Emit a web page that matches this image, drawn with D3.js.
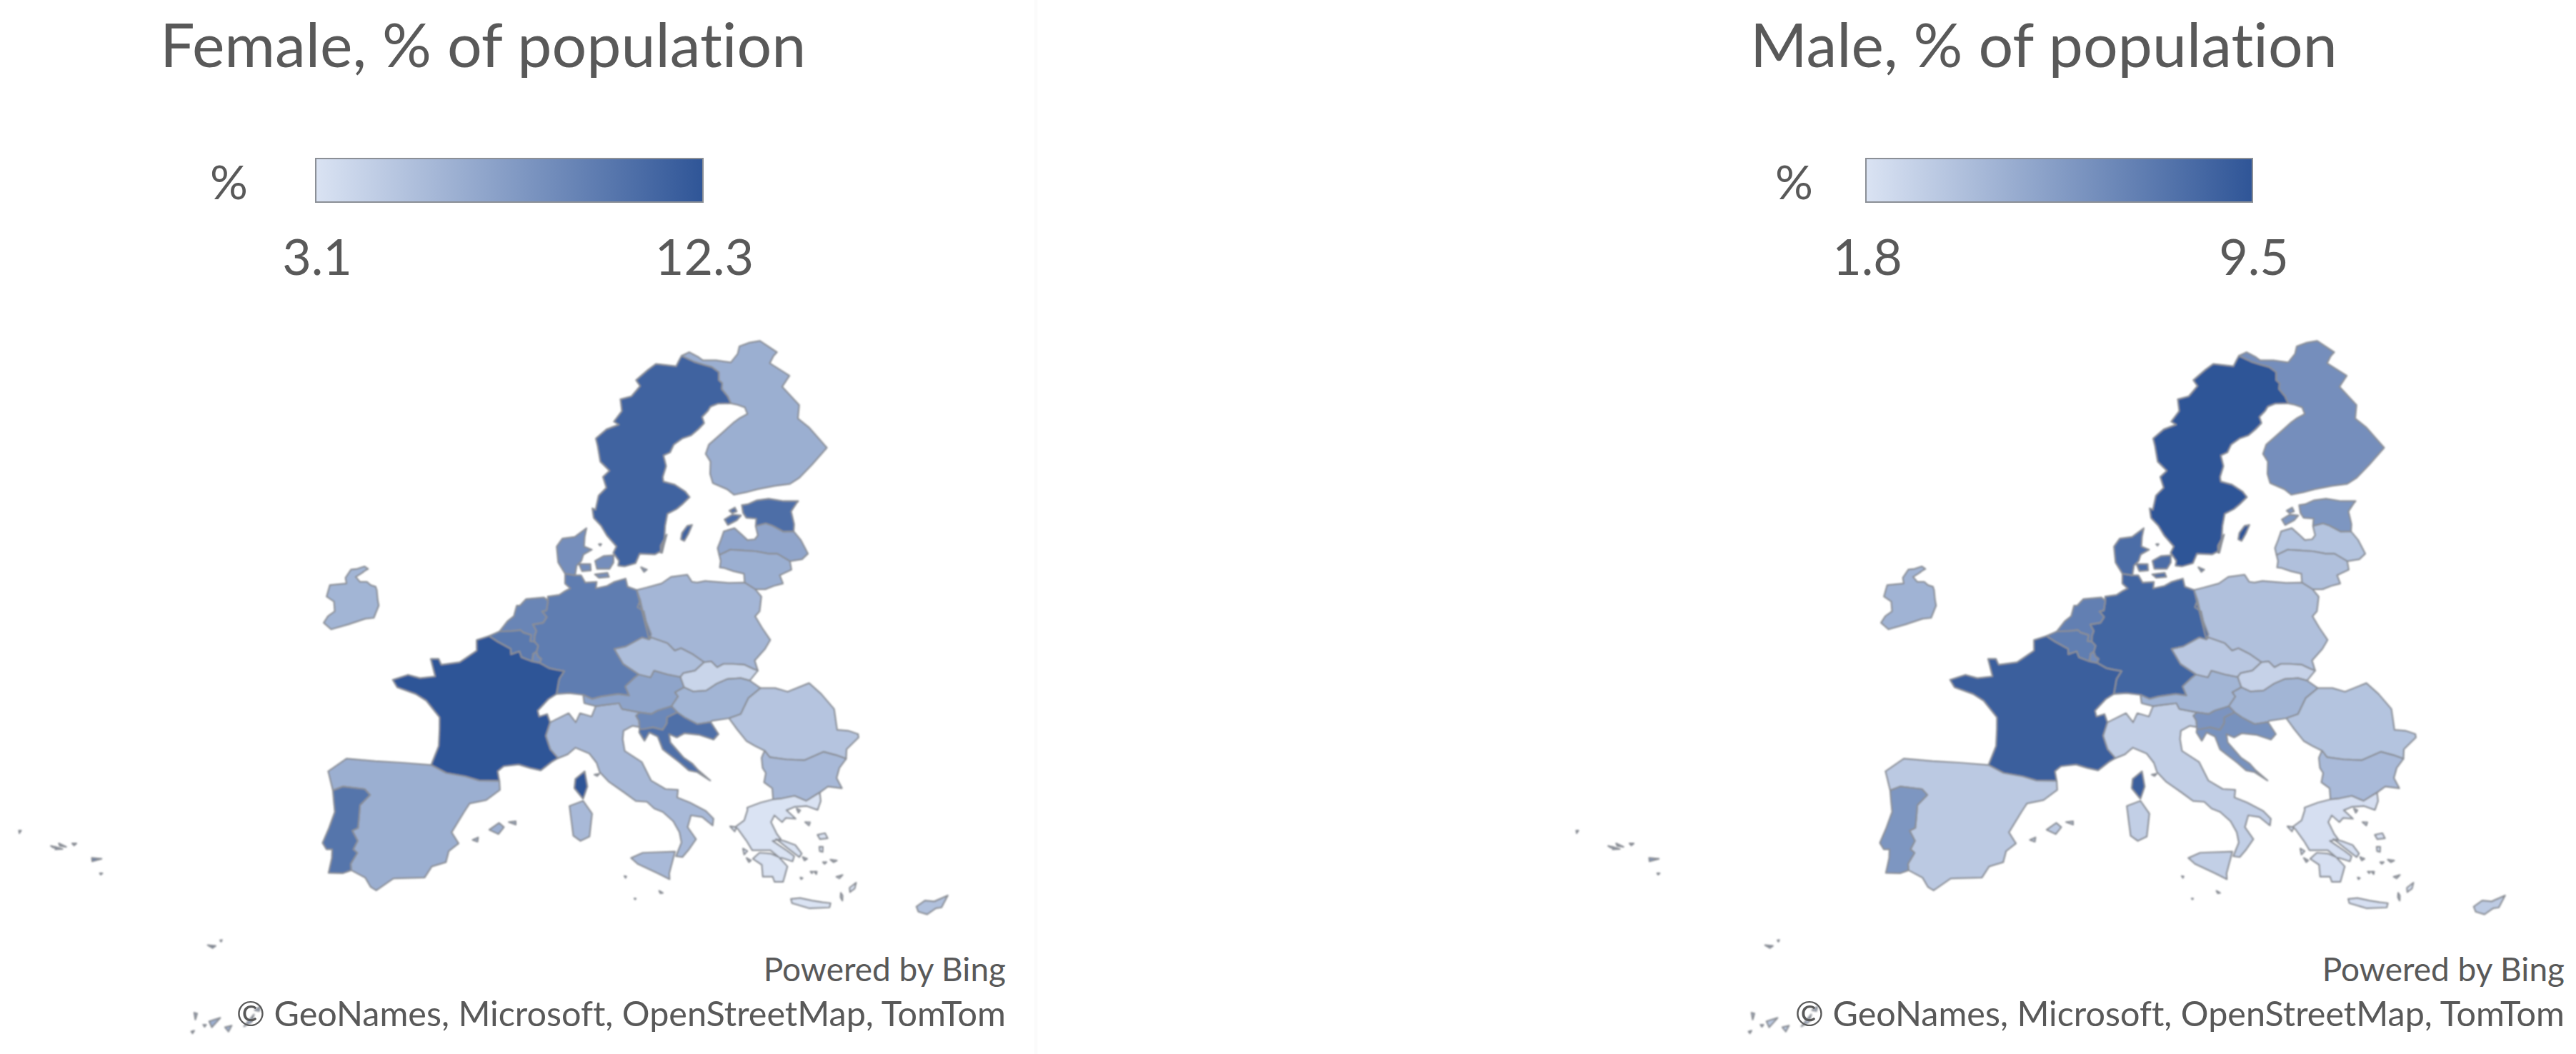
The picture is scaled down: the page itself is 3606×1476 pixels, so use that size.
<!DOCTYPE html>
<html>
<head>
<meta charset="utf-8">
<script src="https://cdn.jsdelivr.net/npm/d3@7"></script>
<style>
  html, body { margin: 0; background: #fff; }
  text { font-family: Lato, "Open Sans", sans-serif; fill: #595959; font-variant-ligatures: none; }
</style>
</head>
<body>
<div class="canva"></div>
<script>
const countries = ['SE', 'FI', 'EE', 'LV', 'LT', 'PL', 'DE', 'DK', 'NL', 'BE', 'LU', 'FR', 'ES', 'PT', 'IT', 'AT', 'CZ', 'SK', 'HU', 'SI', 'HR', 'RO', 'BG', 'GR', 'CY', 'IE', 'MT'];
const femaleValues = [11.4, 6.5, 10.7, 7.1, 6.5, 6.0, 9.7, 8.6, 9.2, 10.0, 8.9, 12.3, 6.5, 10.3, 5.8, 7.2, 5.5, 4.0, 6.1, 9.0, 10.6, 5.1, 5.8, 3.1, 5.3, 6.1, 5.5];
const maleValues = [9.5, 6.4, 6.0, 3.5, 3.7, 3.7, 8.6, 8.2, 7.2, 7.3, 6.5, 9.0, 3.2, 6.0, 2.9, 4.3, 3.3, 2.7, 4.3, 6.1, 6.2, 3.5, 4.0, 2.0, 3.1, 4.4, 3.0];

const panelTitles = ['Female, % of population', 'Male, % of population'];
const legendMin = [3.1, 1.8];
const legendMax = [12.3, 9.5];

// shared borders, lon,lat
const arcs = {
  SE_FI: '20.55,69.06 21.6,68.65 22.4,68.45 23.1,68.3 23.65,67.95 23.5,67.4 23.75,67.2 23.6,66.8 24,66.3 24.15,65.82',
  SE_RING: '24.15,65.82 23,65.8 22.3,65.6 22,65.3 21.4,64.9 21.5,64.5 20.9,64.1 20.2,63.7 19.4,63.5 18.6,63.1 18.2,62.6 17.6,62.4 17.7,61.7 17.3,61 17.3,60.7 18.2,60.5 19,60.05 19.3,59.7 18.7,59.3 18.1,58.95 17.3,58.65 17,57.9 16.8,57 16.4,56.3 15.9,56.1 14.7,56.15 14.3,55.55 13.4,55.35 12.9,55.4 13,55.7 12.6,56.2 12.9,56.6 12.2,57.3 11.8,57.9 11.25,58.4 11.2,59 11.45,58.9 11.8,59.8 12.5,60.3 12.3,61 12.9,61.4 12.2,62 12.1,63 12,63.5 13,64.1 14.1,64.4 13.7,64.6 14.5,65.3 14.5,66.1 15.5,66.3 16.4,67 16.1,67.4 17.3,68.1 18.1,68.5 19.9,68.35 20.3,68.8 20.55,69.06',
  FI_RING: '20.55,69.06 21.3,69.3 22,69 22.4,68.75 23.6,68.75 24.9,68.6 25.7,69.2 26,69.7 27,69.95 28,70.08 29.3,69.3 28.9,69.05 28.4,68.55 29.9,67.7 29,66.95 30.1,65.7 29.7,64.8 30.5,64.2 31.6,62.9 30,61.8 28.7,60.95 27.8,60.55 26.5,60.42 25,60.2 24,60 23,59.85 22.5,60.2 21.4,60.6 21.3,61.2 21.5,62 21.2,62.5 21.6,63.1 22.8,63.8 24,64.5 24.6,64.8 25.4,65.1 25.3,65.55 24.6,65.75 24.15,65.82',
  EE_COAST: '28.2,59.45 27,59.45 25.8,59.6 24.8,59.5 24,59.25 23.5,59.2 23.5,58.7 23.7,58.4 24.5,58.35 24.35,57.88',
  EE_LV: '24.35,57.88 25.2,58.05 25.7,57.9 26.5,57.53 27.35,57.55',
  EE_RU: '27.35,57.55 27.5,58 27.45,58.8 28,59.3 28.2,59.45',
  LV_COAST: '24.35,57.88 24.4,57.3 24.1,57.05 23.5,57 23.1,57.35 22.6,57.75 21.7,57.55 21.35,57 21,56.5 21.05,56.07',
  LV_LT: '21.05,56.07 22,56.4 23,56.35 24,56.3 25,56.15 25.7,56.15 26.6,55.68',
  LV_EAST: '26.6,55.68 27.6,55.8 28.15,56.15 27.8,57 27.35,57.55',
  LT_COAST: '21.05,56.07 21.1,55.7 20.95,55.28 21.3,55.25 22,55.05 22.8,54.9 22.75,54.35',
  PL_LT: '22.75,54.35 23.5,53.95',
  LT_EAST: '23.5,53.95 24.3,53.95 25,54.15 25.75,54.3 25.6,54.8 26.6,55.15 26.6,55.68',
  PL_COAST: '14.2,53.9 15,54.05 16.2,54.3 17,54.7 18.3,54.83 18.6,54.4 19,54.35 19.65,54.45 20.5,54.4 21.5,54.33 22.75,54.35',
  PL_EAST: '23.5,53.95 23.9,53.5 23.6,52.6 23.2,52.3 23.6,51.6 24.1,50.85 23.6,50.3 22.7,49.6 22.85,49',
  PL_SK: '22.85,49 22.55,49.09 21.9,49.35 21,49.4 20.3,49.4 19.8,49.2 19.4,49.55 18.85,49.5',
  PL_CZ: '18.85,49.5 18,50 17.2,50.35 16.7,50.2 16.2,50.65 15,51 14.82,50.87',
  PL_DE: '14.82,50.87 15,51.2 14.7,52 14.6,52.6 14.15,52.85 14.4,53.3 14.2,53.9',
  DE_COAST1: '14.2,53.9 13.5,54.1 13.4,54.6 12.5,54.4 11.9,54.15 11,54 11.1,54.4 10.2,54.35 9.9,54.8 9.43,54.8',
  DE_DK: '9.43,54.8 8.65,54.9',
  DE_COAST2: '8.65,54.9 8.6,54.3 9,54 8.6,53.85 8.1,53.6 7.2,53.5 7.2,53.25',
  DE_NL: '7.2,53.25 7.05,52.65 6.7,52.6 7.05,52.25 6.75,51.9 5.95,51.8 6.2,51.4 6.05,51.1 6.02,50.75',
  DE_BE: '6.02,50.75 6.3,50.5 6.15,50.13',
  DE_LU: '6.15,50.13 6.25,49.85 6.5,49.7 6.37,49.46',
  DE_FR: '6.37,49.46 7.05,49.15 7.6,49.05 8.2,48.97 7.8,48.5 7.55,47.6',
  DE_CH: '7.55,47.6 8.5,47.65 9.55,47.55',
  DE_AT: '9.55,47.55 10.2,47.3 10.9,47.45 12.2,47.6 13,47.5 12.75,48.05 13.45,48.55 13.83,48.77',
  DE_CZ: '13.83,48.77 12.7,49.4 12.1,50.3 13,50.45 14.3,51 14.82,50.87',
  DK_COAST: '8.65,54.9 8.15,55.6 8.1,56.6 8.6,57.1 9.6,57.2 10.6,57.75 10.4,57.2 10.3,56.6 10.9,56.4 10.2,56.1 10,55.7 9.6,55.4 9.43,54.8',
  NL_COAST: '7.2,53.25 6.9,53.45 5.5,53.35 5,52.95 4.75,52.95 4.5,52.3 4,52 3.37,51.37',
  NL_BE: '3.37,51.37 4.3,51.4 5,51.45 5.2,51.3 5.8,51.15 5.7,50.78 6.02,50.75',
  BE_COAST: '3.37,51.37 2.55,51.09',
  BE_FR: '2.55,51.09 3.2,50.75 4.2,50.3 4.2,49.97 4.85,50.15 5,49.8 5.8,49.55',
  BE_LU: '5.8,49.55 5.9,50 6.15,50.13',
  LU_FR: '5.8,49.55 6.37,49.46',
  FR_COAST1: '2.55,51.09 1.6,50.85 1.6,50.2 0.3,49.5 -1.1,49.35 -1.3,49.7 -1.9,49.7 -1.55,48.65 -2.7,48.55 -3.6,48.75 -4.75,48.45 -4.4,48 -3,47.6 -2.2,47.2 -1.2,46.2 -1.2,45.5 -1.25,44.5 -1.8,43.37',
  FR_ES: '-1.8,43.37 -0.7,42.9 0.7,42.7 1.7,42.45 3.17,42.43',
  FR_COAST2: '3.17,42.43 3.05,43 3.5,43.3 4.6,43.4 5.4,43.2 6.2,43.05 7,43.55 7.5,43.78',
  FR_IT: '7.5,43.78 6.95,44.3 6.65,45.1 7,45.9',
  FR_CH: '7,45.9 6.8,46.4 6.2,46.25 6.1,46.6 6.95,47.3 7.55,47.6',
  ES_COAST1: '-1.8,43.37 -3.8,43.5 -5.9,43.6 -8,43.75 -9.3,43 -8.9,41.87',
  ES_PT: '-8.9,41.87 -8.2,42.1 -6.6,41.95 -6.2,41.6 -6.9,41 -6.95,40.2 -7,39.65 -7.4,39.5 -7,38.9 -7.3,38.4 -7,38.2 -7.45,37.55 -7.4,37.18',
  ES_COAST2: '-7.4,37.18 -6.4,36.75 -6,36.2 -5.6,36 -4.4,36.7 -2.2,36.75 -1.7,37.4 -0.7,37.65 -0.5,38.3 0.2,38.75 -0.3,39.4 0.6,40.6 1,41.1 2.2,41.3 3.2,41.9 3.17,42.43',
  PT_COAST: '-8.9,41.87 -8.8,41.2 -8.7,40.6 -9.1,39.6 -9.5,38.78 -9.2,38.4 -8.8,38.4 -8.8,37.9 -9,37.02 -8,37 -7.4,37.18',
  IT_COAST: '7.5,43.78 8.2,44 8.8,44.4 9.8,44.05 10.3,43.5 10.5,42.95 11.1,42.4 12.2,41.75 13,41.25 13.8,41.2 14.3,40.8 14.9,40.6 15.6,40.05 16,39.4 16.1,38.8 15.65,38 16.1,37.95 16.6,38.4 17.15,39 16.6,39.7 16.9,40.4 17.7,40.3 18.4,39.8 18.5,40.2 18,40.65 16.9,41.15 16,41.45 16.1,41.9 15.2,41.95 14.2,42.45 13.6,43.55 12.4,44.2 12.3,44.9 12.4,45.4 13.1,45.7 13.6,45.62',
  IT_SI: '13.6,45.62 13.6,46 13.4,46.3 13.7,46.5',
  IT_AT: '13.7,46.5 12.4,46.7 12.2,47.05 11.15,46.95 10.45,46.87',
  IT_CH: '10.45,46.87 10.1,46.25 9.25,46.45 8.9,45.9 8.4,46.45 7,45.9',
  AT_CZ: '13.83,48.77 14.7,48.6 15,49 16.1,48.75 16.95,48.62',
  AT_SK: '16.95,48.62 17.16,48',
  AT_HU: '17.16,48 16.45,47.7 16.65,47.45 16.1,46.87',
  AT_SI: '16.1,46.87 15,46.6 14.55,46.4 13.7,46.5',
  AT_CH: '10.45,46.87 9.6,47.05 9.55,47.55',
  CZ_SK: '18.85,49.5 18.1,49 17.2,48.85 16.95,48.62',
  SK_HU: '17.16,48 17.8,47.75 18.8,47.8 19.6,48.2 20.5,48.5 21.5,48.55 22.15,48.4',
  SK_UA: '22.15,48.4 22.85,49',
  HU_UA: '22.15,48.4 22.9,47.95',
  HU_RO: '22.9,47.95 21.9,47.35 21.2,46.4 20.3,46.15',
  HU_RS: '20.3,46.15 19,46 18.9,45.92',
  HU_HR: '18.9,45.92 17.9,45.8 17,46.2 16.5,46.5',
  HU_SI: '16.5,46.5 16.1,46.87',
  SI_COAST: '13.6,45.62 13.6,45.5',
  SI_HR: '16.5,46.5 15.7,46.2 15.65,45.85 15.3,45.45 14.6,45.6 13.9,45.5 13.6,45.5',
  HR_COAST: '13.6,45.5 13.55,45.3 13.9,44.8 14.3,45.3 14.9,45.05 15.2,44.3 15.5,44.1 16.4,43.5 17,43.05 17.6,42.95 18.5,42.45',
  HR_BA: '18.5,42.45 17.7,43.05 17.3,43.45 16.7,43.8 16.2,44.3 15.8,44.7 15.75,45.2 16.3,45 16.9,45.25 18,45.15 19,44.87',
  HR_RS: '19,44.87 19.4,45.2 18.9,45.92',
  RO_EAST: '22.9,47.95 24,47.95 24.9,47.73 26.6,48.25 27.4,47.6 28.2,46.7 28.2,45.45 29,45.4 29.7,45.2 29.7,45 28.7,44.3 28.58,43.74',
  RO_BG: '28.58,43.74 27.9,43.95 27,44.15 25.5,43.65 24.2,43.7 23,43.83 22.68,44.22',
  RO_RS: '22.68,44.22 22,44.5 21.4,44.8 20.8,45.5 20.3,46.15',
  BG_COAST: '28.58,43.74 28,43.2 27.7,42.6 28,42 27,42.1 26.35,41.75',
  BG_GR: '26.35,41.75 25.3,41.25 24.5,41.55 23.6,41.4 22.93,41.34',
  BG_WEST: '22.93,41.34 22.95,42 22.4,42.35 22.6,42.9 22.4,43.2 22.4,43.8 22.68,44.22',
  GR_REST: '26.35,41.75 26.35,41.25 26.05,40.72 25.3,40.95 24.4,40.9 23.8,40.7 24.4,40.2 23.7,40.25 23.4,40 22.9,40.4 22.6,40 22.95,39.3 23.2,39 22.6,38.9 23.6,38.3 24.05,38 23.9,37.7 23.2,37.9 23,37.9 23.5,37.4 23.1,36.5 22.5,36.5 22.4,36.8 21.7,36.8 21.7,37.5 21.1,37.85 21.6,38.2 22.4,38.15 22.95,37.95 22.4,38.35 21.8,38.35 21.1,38.35 20.75,38.9 20.2,39.6 20,39.7 20.7,40.1 21,40.7 21,40.85 22,41.15 22.93,41.34'
};

// which arcs close each mainland, '-' walks an arc backwards
const mainland = {
  SE: ['SE_RING', 'SE_FI'],
  FI: ['FI_RING', '-SE_FI'],
  EE: ['EE_COAST', 'EE_LV', 'EE_RU'],
  LV: ['LV_COAST', 'LV_LT', 'LV_EAST', '-EE_LV'],
  LT: ['LT_COAST', 'PL_LT', 'LT_EAST', '-LV_LT'],
  PL: ['PL_COAST', 'PL_LT', 'PL_EAST', 'PL_SK', 'PL_CZ', 'PL_DE'],
  DE: ['DE_COAST1', 'DE_DK', 'DE_COAST2', 'DE_NL', 'DE_BE', 'DE_LU', 'DE_FR', 'DE_CH', 'DE_AT', 'DE_CZ', '-PL_DE'],
  DK: ['DK_COAST', 'DE_DK'],
  NL: ['NL_COAST', 'NL_BE', '-DE_NL'],
  BE: ['BE_COAST', 'BE_FR', 'BE_LU', '-DE_BE', '-NL_BE'],
  LU: ['LU_FR', '-DE_LU', '-BE_LU'],
  FR: ['FR_COAST1', 'FR_ES', 'FR_COAST2', 'FR_IT', 'FR_CH', '-DE_FR', '-LU_FR', '-BE_FR'],
  ES: ['ES_COAST1', 'ES_PT', 'ES_COAST2', '-FR_ES'],
  PT: ['PT_COAST', '-ES_PT'],
  IT: ['IT_COAST', 'IT_SI', 'IT_AT', 'IT_CH', '-FR_IT'],
  AT: ['DE_AT', 'AT_CZ', 'AT_SK', 'AT_HU', 'AT_SI', 'IT_AT', 'AT_CH'],
  CZ: ['DE_CZ', '-PL_CZ', 'CZ_SK', '-AT_CZ'],
  SK: ['PL_SK', 'CZ_SK', 'AT_SK', 'SK_HU', 'SK_UA'],
  HU: ['SK_HU', 'HU_UA', 'HU_RO', 'HU_RS', 'HU_HR', 'HU_SI', '-AT_HU'],
  SI: ['AT_SI', '-IT_SI', 'SI_COAST', '-SI_HR', 'HU_SI'],
  HR: ['HR_COAST', 'HR_BA', 'HR_RS', 'HU_HR', 'SI_HR'],
  RO: ['-HU_RO', 'RO_EAST', 'RO_BG', 'RO_RS'],
  BG: ['-RO_BG', 'BG_COAST', 'BG_GR', 'BG_WEST'],
  GR: ['-BG_GR', 'GR_REST']
};

// islands and countries without land borders
const islands = {
  SE: ['18.15,57.05 18.3,57.45 18.8,57.9 19.2,57.95 18.8,57.4 18.4,56.95', '16.4,56.2 16.45,56.65 17.05,57.35 16.75,56.75 16.5,56.2'],
  EE: ['21.9,58.3 22.6,58.6 23.3,58.55 22.9,58.25 22.1,57.95', '22.4,58.85 22.9,59.05 23,58.8 22.6,58.7'],
  DK: ['9.8,55.5 10.7,55.5 10.7,55.1 10,55.05', '11.1,55.7 11.8,56 12.6,56.05 12.55,55.6 12.2,55.2 11.2,55.2', '11,54.85 12,54.95 12.1,54.7 11.3,54.65', '14.7,55.3 15.15,55.15 14.9,55', '11.5,56.75 11.7,56.75 11.6,56.65'],
  FR: ['9.4,43 9.55,42.1 9.2,41.37 8.6,42 8.7,42.55'],
  ES: ['2.4,39.55 3.1,39.95 3.45,39.7 3.05,39.3', '3.8,40 4.3,40.05 4.3,39.85', '1.2,38.95 1.6,39.1 1.55,38.85', '-16.9,28.35 -16.15,28.55 -16.7,28', '-15.8,28 -15.35,28.1 -15.55,27.75', '-14.5,28.05 -13.85,28.75 -14,28.3', '-13.8,29 -13.45,29.2 -13.5,28.95', '-17.95,28.85 -17.75,28.8 -17.85,28.45', '-17.3,28.15 -17.1,28.15 -17.2,28.03', '-18.1,27.75 -17.9,27.8 -18,27.65'],
  PT: ['-31.25,39.5 -31.1,39.5 -31.2,39.35', '-28.85,38.6 -28.6,38.55 -28.65,38.5', '-28.55,38.55 -28,38.42 -28.5,38.4', '-28.3,38.75 -27.75,38.55 -28.2,38.6', '-27.35,38.75 -27.05,38.75 -27.2,38.63', '-25.85,37.9 -25.15,37.85 -25.8,37.7', '-25.18,37 -25,37 -25.1,36.92', '-17.25,32.8 -16.7,32.75 -16.9,32.63', '-16.4,33.08 -16.28,33.1 -16.33,33'],
  IT: ['12.45,37.9 13.3,38.2 15.6,38.27 15.1,37 15.1,36.65 14.3,37 12.9,37.55', '8.2,40.95 9.2,41.25 9.8,40.5 9.55,39.15 8.9,38.9 8.4,39.2', '10.1,42.8 10.45,42.85 10.3,42.72', '12.55,35.53 12.65,35.52 12.6,35.47', '11.92,36.84 12.05,36.82 12,36.73'],
  MT: ['14.32,35.97 14.57,35.85 14.4,35.83'],
  IE: ['-7.25,55.35 -6.95,55.2 -7.25,55.05 -7.4,54.95 -7.9,54.7 -7.55,54.4 -7,54.4 -6.7,54.2 -6.3,54.1 -6.2,53.9 -6.1,53.3 -6,52.95 -6.35,52.2 -7,52.15 -8.3,51.8 -9.6,51.5 -10.2,51.9 -9.9,52.3 -9.4,52.6 -9.5,53.2 -10.1,53.5 -9.9,54.2 -8.6,54.3 -8.7,54.65 -8.3,55.15 -7.8,55.2'],
  CY: ['32.3,35.05 32.95,35.4 33.6,35.35 34.6,35.7 34.05,35 33.65,34.95 33,34.6 32.4,34.75'],
  GR: ['23.55,35.5 24.2,35.55 25,35.4 25.75,35.3 26.3,35.25 26.2,35 24.8,34.95 23.6,35.25', '27.75,36.15 28.25,36.45 28.1,36.1 27.75,35.9', '25.85,39.25 26.4,39.35 26.55,39.05 26,39', '25.9,38.55 26.15,38.55 26.1,38.25 25.9,38.3', '26.6,37.8 27.05,37.75 26.8,37.65', '22.85,39 23.4,38.9 24.2,38.65 24.6,38.15 24.4,37.95 23.6,38.5 23.1,38.85', '24.55,40.8 24.8,40.7 24.65,40.55', '25.05,40 25.4,39.98 25.3,39.8', '19.65,39.75 20.1,39.7 19.95,39.45', '20.45,38.45 20.75,38.3 20.5,38.1', '20.65,37.9 20.95,37.75 20.8,37.65', '25.35,37.1 25.55,37.1 25.5,36.95', '24.65,37.95 24.95,37.85 24.75,37.75', '24.35,36.75 24.5,36.72 24.4,36.65', '27.1,35.85 27.2,35.7 27.15,35.4 27.05,35.6', '26.9,36.8 27.35,36.9 27.1,36.7', '25.1,37.1 25.25,37.1 25.2,37', '26.05,37.65 26.3,37.65 26.15,37.55']
}

const parse = s => s.split(' ').map(p => p.split(',').map(Number));

function walk(names) {
  let pts = [];
  names.forEach(n => {
    let a = n[0] === '-' ? parse(arcs[n.slice(1)]).reverse() : parse(arcs[n]);
    pts = pts.concat(pts.length ? a.slice(1) : a);
  });
  return pts;
}

// d3 wants small polygons wound the right way round
function poly(pts) {
  let ring = pts.slice();
  if (ring[0][0] !== ring[ring.length - 1][0] || ring[0][1] !== ring[ring.length - 1][1]) ring.push(ring[0]);
  if (d3.geoArea({ type: 'Polygon', coordinates: [ring] }) > 2 * Math.PI) ring.reverse();
  return [ring];
}

const features = countries.map(id => {
  let polys = [];
  if (mainland[id]) polys.push(poly(walk(mainland[id])));
  (islands[id] || []).forEach(s => polys.push(poly(parse(s))));
  return { type: 'Feature', id, geometry: { type: 'MultiPolygon', coordinates: polys } };
});

// Robinson table, every 5 degrees
const robLat = d3.range(0, 95, 5);
const robLen = [1, .9986, .9954, .99, .9822, .973, .96, .9427, .9216, .8962, .8679, .835, .7986, .7597, .7186, .6732, .6213, .5722, .5322];
const robDfe = [0, .062, .124, .186, .248, .31, .372, .434, .4958, .5571, .6176, .6769, .7346, .7903, .8435, .8936, .9394, .9761, 1];
const plen = d3.scaleLinear().domain(robLat).range(robLen);
const pdfe = d3.scaleLinear().domain(robLat).range(robDfe);

function robinson(lambda, phi) {
  const deg = Math.abs(phi) * 180 / Math.PI;
  return [0.8487 * plen(deg) * lambda, 1.3523 * pdfe(deg) * Math.sign(phi)];
}

const svg = d3.select('.canva').append('svg')
  .attr('width', 3606)
  .attr('height', 1476);

const panels = [
  { values: femaleValues, cx: 638, titleX: 224, barX: 442, barW: 542, pctX: 294, attrX: 1408 },
  { values: maleValues, cx: 2818, titleX: 2450, barX: 2612, barW: 541, pctX: 2485, attrX: 3590 }
];

const defs = svg.append('defs');

// the source is a soft screenshot
defs.append('filter').attr('id', 'soft')
  .append('feGaussianBlur').attr('stdDeviation', 1);

// faint edge between the two source charts
svg.append('line')
  .attr('x1', 1450).attr('x2', 1450)
  .attr('y1', 0).attr('y2', 1476)
  .attr('stroke', '#fbfbfb')
  .attr('stroke-width', 5);

panels.forEach((p, i) => {
  const color = d3.scaleLinear()
    .domain([legendMin[i], legendMax[i]])
    .range(['#dae3f3', '#2f5597']);

  const projection = d3.geoProjection(robinson)
    .scale(1430)
    .translate([p.cx, 2110])
    .precision(0.5);
  const path = d3.geoPath(projection);

  const g = svg.append('g');

  g.append('g')
    .attr('filter', 'url(#soft)')
    .selectAll('path')
    .data(features)
    .enter().append('path')
    .attr('d', path)
    .attr('fill', (d, k) => color(p.values[k]))
    .attr('stroke', '#8b8f96')
    .attr('stroke-width', 2.2)
    .attr('stroke-linejoin', 'round');

  g.append('text')
    .attr('x', p.titleX)
    .attr('y', 94)
    .attr('font-size', 86)
    .text(panelTitles[i]);

  // legend
  const legendX = d3.scaleLinear()
    .domain([legendMin[i], legendMax[i]])
    .range([p.barX, p.barX + p.barW]);

  const grad = defs.append('linearGradient').attr('id', 'grad' + i);
  grad.selectAll('stop')
    .data([legendMin[i], legendMax[i]])
    .enter().append('stop')
    .attr('offset', (d, k) => k * 100 + '%')
    .attr('stop-color', d => color(d));

  g.append('rect')
    .attr('x', legendX(legendMin[i]))
    .attr('y', 222)
    .attr('width', p.barW)
    .attr('height', 61)
    .attr('fill', 'url(#grad' + i + ')')
    .attr('stroke', '#8b8f96')
    .attr('stroke-width', 2);

  g.append('text')
    .attr('x', p.pctX)
    .attr('y', 279)
    .attr('font-size', 66)
    .text('%');

  g.selectAll('.tick')
    .data([legendMin[i], legendMax[i]])
    .enter().append('text')
    .attr('class', 'tick')
    .attr('x', d => legendX(d) + 2)
    .attr('y', 385)
    .attr('text-anchor', 'middle')
    .attr('font-size', 70)
    .text(d => d.toFixed(1));

  g.append('text')
    .attr('x', p.attrX)
    .attr('y', 1374)
    .attr('text-anchor', 'end')
    .attr('font-size', 46)
    .text('Powered by Bing');

  g.append('text')
    .attr('x', p.attrX)
    .attr('y', 1437)
    .attr('text-anchor', 'end')
    .attr('font-size', 48.5)
    .text('© GeoNames, Microsoft, OpenStreetMap, TomTom');
});
</script>
</body>
</html>
